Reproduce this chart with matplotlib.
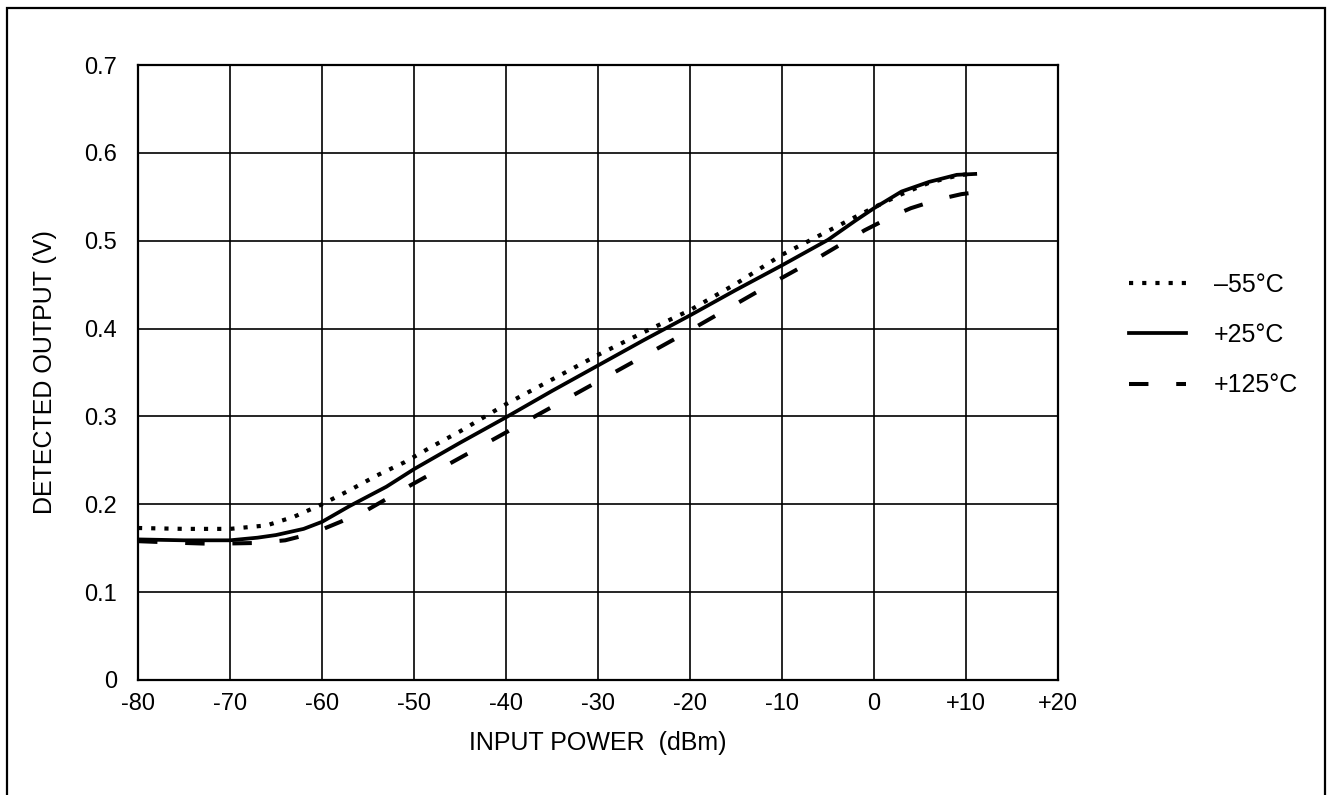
import matplotlib
matplotlib.use('Agg')
import matplotlib.pyplot as plt
from matplotlib.patches import Rectangle

plt.rcParams['font.family'] = ['Liberation Sans', 'DejaVu Sans']
plt.rcParams['lines.scale_dashes'] = False

# detected output vs input power
x_m55 = [-80, -75, -70, -66, -63, -60, -57, -54, -51, -48, -45, -40, -35, -30,
         -25, -20, -15, -10, -5, 0, 3, 6, 9, 11]
y_m55 = [0.173, 0.172, 0.172, 0.176, 0.186, 0.200, 0.216, 0.233, 0.248, 0.266,
         0.283, 0.314, 0.342, 0.370, 0.396, 0.421, 0.451, 0.484, 0.511, 0.538,
         0.553, 0.566, 0.574, 0.577]

x_p25 = [-80, -75, -70, -67, -65, -62, -60, -57, -53, -50, -45, -40, -35, -30,
         -25, -20, -15, -10, -5, -2, 0, 3, 6, 9, 11]
y_p25 = [0.160, 0.159, 0.159, 0.162, 0.165, 0.172, 0.180, 0.198, 0.220, 0.240,
         0.270, 0.299, 0.329, 0.358, 0.387, 0.415, 0.444, 0.472, 0.501, 0.523,
         0.537, 0.556, 0.567, 0.575, 0.576]

x_p125 = [-80, -75, -72, -67, -64, -61, -58, -55, -51, -46, -41, -36, -31, -26,
          -21, -16, -11, -6, -1, 2, 4, 7, 9.5, 11]
y_p125 = [0.158, 0.156, 0.155, 0.156, 0.159, 0.167, 0.180, 0.194, 0.218, 0.247,
          0.276, 0.305, 0.334, 0.363, 0.392, 0.422, 0.452, 0.481, 0.512, 0.528,
          0.537, 0.547, 0.553, 0.555]

x_ticks = [-80, -70, -60, -50, -40, -30, -20, -10, 0, 10, 20]
x_ticklabels = ['-80', '-70', '-60', '-50', '-40', '-30', '-20', '-10', '0', '+10', '+20']
y_ticks = [0, 0.1, 0.2, 0.3, 0.4, 0.5, 0.6, 0.7]
y_ticklabels = ['0', '0.1', '0.2', '0.3', '0.4', '0.5', '0.6', '0.7']
labels = ['\u201355\u00b0C', '+25\u00b0C', '+125\u00b0C']


def main():
	W, H = 1332, 795
	fig = plt.figure(figsize=(W / 100, H / 100), dpi=100)
	ax = fig.add_axes([138 / W, 1 - 680 / H, 920 / W, 615 / H])

	ax.plot(x_m55, y_m55, color='k', lw=3.0, linestyle=(0, (3.0, 6.5)), label=labels[0])
	ax.plot(x_p25, y_p25, color='k', lw=2.7, label=labels[1])
	ax.plot(x_p125, y_p125, color='k', lw=2.9, linestyle=(0, (14, 20)), label=labels[2])

	ax.set_xlim(-80, 20)
	ax.set_ylim(0, 0.7)
	ax.set_xticks(x_ticks)
	ax.set_xticklabels(x_ticklabels)
	ax.set_yticks(y_ticks)
	ax.set_yticklabels(y_ticklabels)
	ax.tick_params(length=0, labelsize=17)
	ax.tick_params(axis='x', pad=9)
	ax.tick_params(axis='y', pad=15)
	ax.grid(True, color='k', lw=1.2)
	for s in ax.spines.values():
		s.set_linewidth(1.6)

	ax.set_xlabel('INPUT POWER  (dBm)', fontsize=18, labelpad=12)
	ax.set_ylabel('DETECTED OUTPUT (V)', fontsize=18, labelpad=20)

	ax.legend(loc='center left', bbox_to_anchor=(1106 / W, 1 - 335 / H),
	          bbox_transform=fig.transFigure, frameon=False, fontsize=18,
	          handlelength=2.3, handletextpad=1.1, labelspacing=1.05)

	# outer frame around the figure
	fig.patches.append(Rectangle((7 / W, -0.05), 1318 / W, 1.05 - 8 / H,
	                             transform=fig.transFigure, fill=False,
	                             edgecolor='k', lw=1.6, clip_on=False))

	fig.savefig('out.png', dpi=100)


if __name__ == '__main__':
	main()
